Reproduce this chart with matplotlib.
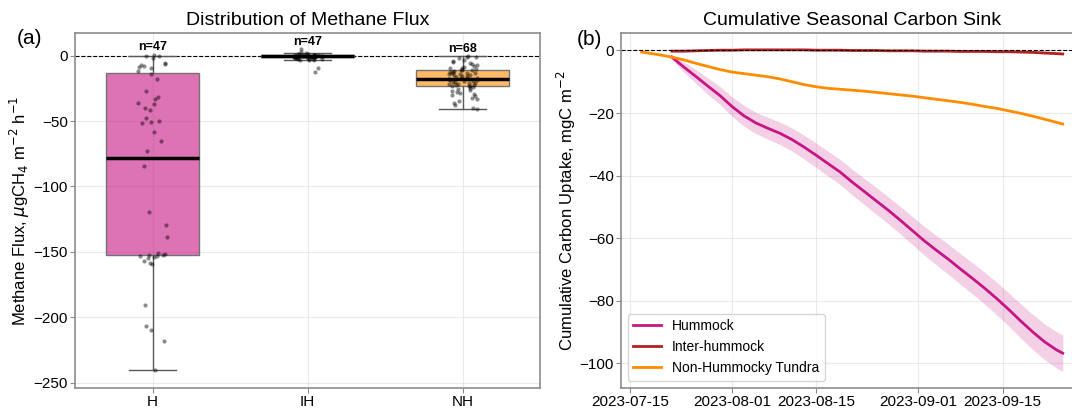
import numpy as np
import pandas as pd
import matplotlib
matplotlib.use('Agg')
import matplotlib.pyplot as plt
import matplotlib.dates as mdates
from matplotlib.colors import to_rgba
import seaborn as sns

# 字体设置
plt.rcParams['font.family'] = ['Liberation Sans', 'DejaVu Sans']

# ---------- (a) 甲烷通量分布 ----------
groups = ['H', 'IH', 'NH']
colors = ['mediumvioletred', 'firebrick', 'darkorange']

flux_h = [0.8, 0.0, -0.5, -1.5, -5.6, -6.1, -6.8, -8.1, -8.6, -9.3, -11.9, -14.4,
          -17.7, -27.0, -31.3, -32.9, -35.9, -37.1, -40.4, -41.4, -48.0, -50.3,
          -50.5, -51.8, -58.1, -65.4, -73.0, -84.6, -119.5, -129.3, -138.9,
          -150.5, -151.5, -152.0, -152.5, -152.8, -153.3, -154.0, -155.0, -157.1,
          -158.3, -159.6, -190.6, -207.0, -209.6, -218.2, -240.0]
flux_ih = [4.8, 2.6, 2.0, 1.6, 1.3, 1.0, 0.8, 0.6, 0.5, 0.4,
           0.3, 0.2, 0.1, 0.0, 0.0, -0.1, -0.2, -0.2, -0.3, -0.4,
           -0.5, -0.5, -0.6, -0.7, -0.8, -0.9, -1.0, -1.1, -1.2, -1.3,
           -1.5, -1.6, -1.8, -2.0, -2.2, -2.4, -2.6, -2.8, -3.0, -3.3,
           -3.6, -0.3, 0.3, -0.7, -1.4, -9.1, -12.6]
flux_nh = [-0.3, -0.8, -1.2, -2.0, -3.1, -4.0, -5.2, -5.8, -6.5, -7.3, -7.9, -8.6,
           -9.2, -9.8, -10.3, -10.7, -10.9,
           -11.3, -11.8, -12.2, -12.6, -12.9, -13.0, -13.5, -13.9, -14.2, -14.6,
           -15.0, -15.4, -15.8, -16.3, -16.8, -17.2, -17.4, -17.6, -18.0, -18.3,
           -18.7, -19.1, -19.5, -19.9, -20.3, -20.7, -21.0, -21.4, -21.8, -22.2,
           -22.6, -22.9, -23.2, -23.4,
           -24.1, -24.8, -25.5, -26.2, -27.0, -27.8, -28.5, -29.4, -30.3, -31.0,
           -32.2, -33.5, -34.8, -36.0, -37.5, -39.8, -40.5]

# 箱线图统计量: whislo, q1, med, q3, whishi
box_h = [-240.0, -152.0, -78.0, -13.0, 0.0]
box_ih = [-3.2, -1.2, -0.4, 0.3, 2.0]
box_nh = [-40.5, -23.5, -17.5, -11.0, 0.0]

# ---------- (b) 累积碳汇 ----------
# 每两天一个值，最后一天 9/25
dates_h = list(pd.date_range('2023-07-22', '2023-09-24', freq='2D')) + [pd.Timestamp('2023-09-25')]
hummock = [-2.1, -5.3, -8.3, -11.4, -14.4, -17.9, -20.9, -23.2, -24.9, -26.5,
           -28.5, -30.9, -33.5, -36.2, -38.9, -42.1, -45.1, -48.1, -51.1, -54.3,
           -57.6, -60.9, -63.9, -66.8, -69.9, -72.9, -76.0, -79.3, -82.8, -86.5,
           -90.0, -93.2, -95.8, -96.8]
hummock_sd = [0.8, 1.6, 2.2, 2.6, 2.9, 3.1, 3.3, 3.4, 3.5, 3.6,
              3.7, 3.8, 3.9, 4.0, 4.0, 4.1, 4.2, 4.3, 4.3, 4.4,
              4.5, 4.6, 4.7, 4.8, 4.9, 5.0, 5.1, 5.2, 5.3, 5.5,
              5.6, 5.7, 5.8, 5.9]
inter = [-0.2, -0.2, -0.1, 0.0, 0.1, 0.1, 0.2, 0.2, 0.2, 0.2,
         0.2, 0.2, 0.1, 0.1, 0.1, 0.0, 0.0, 0.0, -0.1, -0.1,
         -0.1, -0.2, -0.2, -0.2, -0.3, -0.3, -0.3, -0.4, -0.4, -0.5,
         -0.6, -0.8, -1.0, -1.1]
inter_sd = [0.3, 0.3, 0.2, 0.2, 0.2, 0.2, 0.2, 0.2, 0.2, 0.2,
            0.2, 0.2, 0.2, 0.2, 0.2, 0.2, 0.2, 0.2, 0.2, 0.2,
            0.2, 0.2, 0.2, 0.2, 0.2, 0.2, 0.2, 0.2, 0.2, 0.2,
            0.2, 0.3, 0.3, 0.3]
dates_nh = [pd.Timestamp('2023-07-17'), pd.Timestamp('2023-07-20')] + dates_h
tundra = [-0.5, -1.4, -2.1, -3.0, -4.1, -5.1, -6.1, -6.9, -7.4, -7.9,
          -8.4, -9.1, -10.0, -10.9, -11.6, -12.1, -12.4, -12.7, -13.0, -13.4,
          -13.8, -14.2, -14.6, -15.1, -15.6, -16.1, -16.6, -17.2, -17.9, -18.5,
          -19.3, -20.1, -21.0, -22.0, -23.0, -23.5]

fig = plt.figure(figsize=(10.72, 4.09), dpi=100)
ax1 = fig.add_axes([0.070, 0.052, 0.434, 0.867])
ax2 = fig.add_axes([0.579, 0.052, 0.432, 0.867])

spine_c = '0.55'

# 箱线图
stats = []
for g, b in zip(groups, [box_h, box_ih, box_nh]):
    stats.append(dict(label=g, whislo=b[0], q1=b[1], med=b[2], q3=b[3], whishi=b[4], fliers=[]))
bp = ax1.bxp(stats, positions=[0, 1, 2], widths=0.6, patch_artist=True, showfliers=False,
             boxprops=dict(edgecolor='0.45', linewidth=1),
             whiskerprops=dict(color='0.35', linewidth=1),
             capprops=dict(color='0.35', linewidth=1),
             medianprops=dict(color='black', linewidth=2.5))
for patch, c in zip(bp['boxes'], colors):
    patch.set_facecolor(to_rgba(c, 0.6))

# 散点
df = pd.DataFrame({'group': ['H'] * len(flux_h) + ['IH'] * len(flux_ih) + ['NH'] * len(flux_nh),
                   'flux': flux_h + flux_ih + flux_nh})
np.random.seed(3)
sns.stripplot(data=df, x='group', y='flux', order=groups, color='black', alpha=0.45,
              size=3, jitter=0.1, ax=ax1, zorder=4)

# 样本量
for i, vals in enumerate([flux_h, flux_ih, flux_nh]):
    ax1.text(i, max(vals) + 1.0, 'n=%d' % len(vals), ha='center', va='bottom',
             fontsize=9, fontweight='bold')

ax1.axhline(0, color='black', linestyle='--', linewidth=0.8, zorder=1)
ax1.set_xlim(-0.5, 2.5)
ax1.set_ylim(-253.8, 17.2)
ax1.set_xticks([0, 1, 2])
ax1.set_xticklabels(groups)
ax1.set_xlabel('')
ax1.set_ylabel(r'Methane Flux, $\mu$gCH$_4$ m$^{-2}$ h$^{-1}$', fontsize=12, labelpad=1)
ax1.set_title('Distribution of Methane Flux', fontsize=14)
ax1.grid(True, color='0.85', alpha=0.5, linewidth=0.8)
ax1.set_axisbelow(True)

# 累积曲线
hm = np.array(hummock)
hs = np.array(hummock_sd)
im = np.array(inter)
isd = np.array(inter_sd)
ax2.fill_between(dates_h, hm - hs, hm + hs, color='mediumvioletred', alpha=0.2, linewidth=0)
ax2.plot(dates_h, hm, color='mediumvioletred', linewidth=2, label='Hummock')
ax2.fill_between(dates_h, im - isd, im + isd, color='firebrick', alpha=0.2, linewidth=0)
ax2.plot(dates_h, im, color='firebrick', linewidth=2, label='Inter-hummock')
ax2.plot(dates_nh, tundra, color='darkorange', linewidth=2, label='Non-Hummocky Tundra')
ax2.axhline(0, color='black', linestyle='--', linewidth=0.8)

ax2.xaxis.set_major_locator(mdates.DayLocator(bymonthday=[1, 15]))
ax2.xaxis.set_major_formatter(mdates.DateFormatter('%Y-%m-%d'))
ax2.set_ylabel(r'Cumulative Carbon Uptake, mgC m$^{-2}$', fontsize=12, labelpad=1)
ax2.set_title('Cumulative Seasonal Carbon Sink', fontsize=14)
ax2.grid(True, color='0.85', alpha=0.5, linewidth=0.8)
ax2.set_axisbelow(True)
ax2.legend(loc='lower left', fontsize=10)

for ax in [ax1, ax2]:
    for s in ax.spines.values():
        s.set_color(spine_c)
        s.set_linewidth(1.2)
    ax.tick_params(labelsize=11, color=spine_c, length=3.5, pad=1.5)

fig.text(0.016, 0.907, '(a)', fontsize=15, va='center')
fig.text(0.538, 0.903, '(b)', fontsize=15, va='center')

fig.savefig('out.png', dpi=100)
